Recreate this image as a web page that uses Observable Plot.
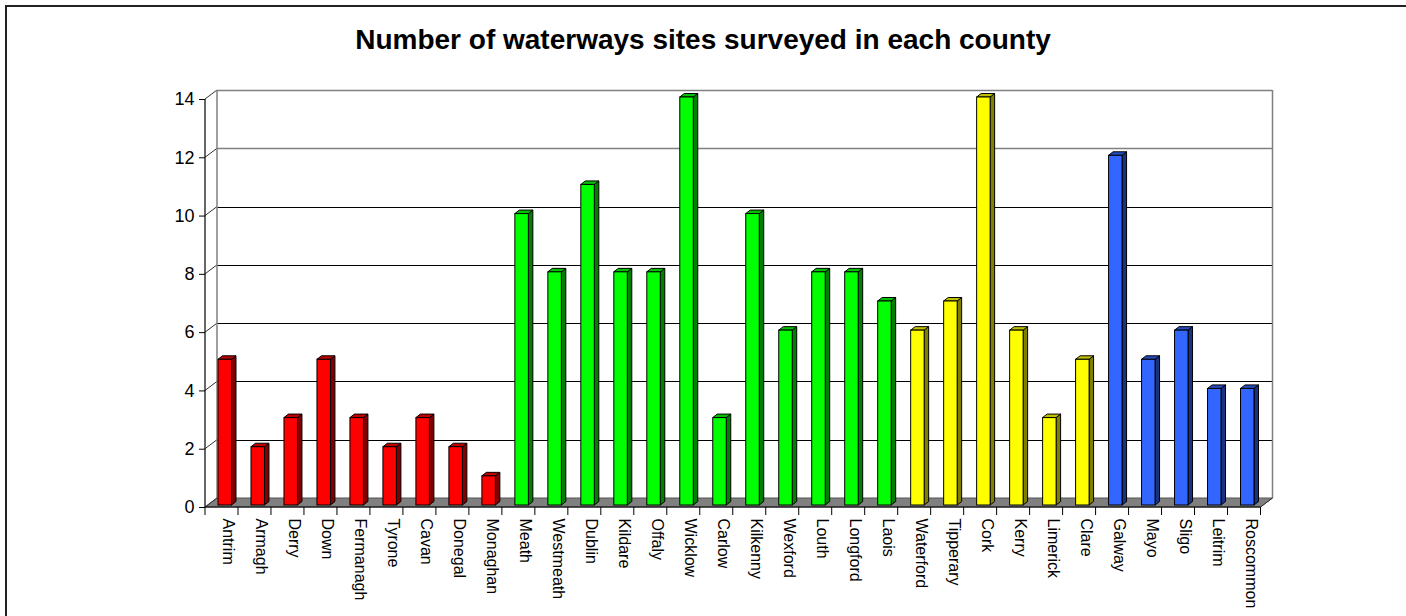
<!DOCTYPE html>
<html>
<head>
<meta charset="utf-8">
<script src="https://cdn.jsdelivr.net/npm/d3@7"></script>
<script src="https://cdn.jsdelivr.net/npm/@observablehq/plot@0.6"></script>
<style>
  html, body { margin: 0; padding: 0; background: #fff; overflow: hidden; width: 1406px; height: 616px; }
  #frame { position: absolute; left: 5px; top: 5px; width: 2000px; height: 2000px; border-left: 2px solid #222; border-top: 2px solid #222; }
  #title { position: absolute; left: 0; top: 26px; width: 1406px; text-align: center; font: bold 28px "Liberation Sans", Arial, sans-serif; line-height: 28px; color: #000; }
  #chart { position: absolute; left: 0; top: 60px; }
</style>
</head>
<body>
<div id="frame"></div>
<div id="title">Number of waterways sites surveyed in each county</div>
<div id="chart"></div>
<script>
// ---- data ----
const counties = ["Antrim","Armagh","Derry","Down","Fermanagh","Tyrone","Cavan","Donegal","Monaghan",
  "Meath","Westmeath","Dublin","Kildare","Offaly","Wicklow","Carlow","Kilkenny","Wexford","Louth","Longford","Laois",
  "Waterford","Tipperary","Cork","Kerry","Limerick","Clare",
  "Galway","Mayo","Sligo","Leitrim","Roscommon"];
const sites = [5,2,3,5,3,2,3,2,1,
  10,8,11,8,8,14,3,10,6,8,8,7,
  6,7,14,6,3,5,
  12,5,6,4,4];
const regions = ["Ulster","Ulster","Ulster","Ulster","Ulster","Ulster","Ulster","Ulster","Ulster",
  "Leinster","Leinster","Leinster","Leinster","Leinster","Leinster","Leinster","Leinster","Leinster","Leinster","Leinster","Leinster",
  "Munster","Munster","Munster","Munster","Munster","Munster",
  "Connacht","Connacht","Connacht","Connacht","Connacht"];
const yTicks = [0,2,4,6,8,10,12,14];

// ---- styles ----
const faceColors = {
  Ulster:   {front: "#FF0000", top: "#C00000", side: "#800000"},
  Leinster: {front: "#00FF00", top: "#00C000", side: "#008000"},
  Munster:  {front: "#FFFF00", top: "#C0C000", side: "#808000"},
  Connacht: {front: "#3366FF", top: "#274DC0", side: "#1A3380"}
};
const data = counties.map((c, i) => ({county: c, value: sites[i], region: regions[i]}));

const DEPTH_X = 12, DEPTH_Y = 9;     // wall depth offset
const BAR_DX = 4.5, BAR_DY = 3.5;    // bar depth
const INSET_L = 13, INSET_R = 6.5, BAR_SHIFT = 2;

function bwOf(x, dims) {
  if (typeof x.bandwidth === "function") return x.bandwidth();
  if (typeof x.bandwidth === "number") return x.bandwidth;
  return (dims.width - dims.marginLeft - dims.marginRight) / counties.length;
}

// back walls + gridlines + floor
function walls(index, {x, y}, values, dims) {
  const g = d3.create("svg:g");
  const x0 = dims.marginLeft, x1 = dims.width - dims.marginRight;
  const ytop = y(yTicks[yTicks.length - 1]), ybot = y(0);
  g.append("polygon")
    .attr("points", [[x0, ybot], [x1, ybot], [x1 + DEPTH_X, ybot - DEPTH_Y], [x0 + DEPTH_X, ybot - DEPTH_Y]].map(p => p.join(",")).join(" "))
    .attr("fill", "#808080").attr("stroke", "#555").attr("stroke-width", 1);
  for (const v of yTicks) {
    if (v === 0) continue;
    const yy = Math.round(y(v) - DEPTH_Y) + 0.5;
    g.append("line").attr("x1", x0 + DEPTH_X).attr("x2", x1 + DEPTH_X).attr("y1", yy).attr("y2", yy)
      .attr("stroke", v >= 12 ? "#808080" : "#000").attr("stroke-width", v >= 12 ? 1.5 : 1);
  }
  for (const v of yTicks) {
    g.append("line").attr("x1", x0).attr("y1", y(v)).attr("x2", x0 + DEPTH_X).attr("y2", y(v) - DEPTH_Y)
      .attr("stroke", "#333").attr("stroke-width", 1);
  }
  g.append("line").attr("x1", x0 + DEPTH_X).attr("x2", x0 + DEPTH_X).attr("y1", ytop - DEPTH_Y).attr("y2", ybot - DEPTH_Y)
    .attr("stroke", "#808080").attr("stroke-width", 1.5);
  g.append("line").attr("x1", x1 + DEPTH_X).attr("x2", x1 + DEPTH_X).attr("y1", ytop - DEPTH_Y).attr("y2", ybot - DEPTH_Y)
    .attr("stroke", "#808080").attr("stroke-width", 1.5);
  return g.node();
}

// side + top faces of the 3D bars
function barFaces(index, {x, y}, values, dims) {
  const g = d3.create("svg:g");
  const bw = bwOf(x, dims);
  for (const d of data) {
    const xl = x(d.county) + INSET_L, xr = x(d.county) + bw - INSET_R;
    const yt = y(d.value) - BAR_SHIFT, yb = y(0) - BAR_SHIFT;
    const c = faceColors[d.region];
    g.append("polygon")
      .attr("points", [[xr, yt], [xr + BAR_DX, yt - BAR_DY], [xr + BAR_DX, yb - BAR_DY], [xr, yb]].map(p => p.join(",")).join(" "))
      .attr("fill", c.side).attr("stroke", "#000").attr("stroke-width", 1).attr("stroke-linejoin", "round");
    g.append("polygon")
      .attr("points", [[xl, yt], [xl + BAR_DX, yt - BAR_DY], [xr + BAR_DX, yt - BAR_DY], [xr, yt]].map(p => p.join(",")).join(" "))
      .attr("fill", c.top).attr("stroke", "#000").attr("stroke-width", 1).attr("stroke-linejoin", "round");
  }
  return g.node();
}

// front axis lines and category ticks
function axesLines(index, {x, y}, values, dims) {
  const g = d3.create("svg:g");
  const bw = bwOf(x, dims);
  const x0 = dims.marginLeft, x1 = dims.width - dims.marginRight;
  const y0 = y(0);
  g.append("line").attr("x1", x0).attr("x2", x0).attr("y1", y(14)).attr("y2", y0).attr("stroke", "#000").attr("stroke-width", 1.2);
  g.append("line").attr("x1", x0).attr("x2", x1).attr("y1", y0).attr("y2", y0).attr("stroke", "#000").attr("stroke-width", 1.2);
  g.append("line").attr("x1", x1).attr("x2", x1 + DEPTH_X).attr("y1", y0).attr("y2", y0 - DEPTH_Y).attr("stroke", "#333").attr("stroke-width", 1);
  const bounds = counties.map(c => x(c)).concat([x(counties[counties.length - 1]) + bw]);
  for (const bx of bounds) {
    g.append("line").attr("x1", bx).attr("x2", bx).attr("y1", y0).attr("y2", y0 + 8).attr("stroke", "#000").attr("stroke-width", 1);
  }
  return g.node();
}

const chart = Plot.plot({
  width: 1406,
  height: 556,
  marginLeft: 205,
  marginRight: 145.5,
  marginTop: 39,
  marginBottom: 109,
  style: {fontFamily: '"Liberation Sans", Arial, sans-serif', color: "#000", background: "transparent", overflow: "visible"},
  x: {type: "band", domain: counties, padding: 0, round: false, axis: null},
  y: {domain: [0, 14], axis: null},
  marks: [
    walls,
    barFaces,
    Plot.barY(data, {
      x: "county", y1: 0, y2: "value",
      fill: d => faceColors[d.region].front,
      stroke: "#000", strokeWidth: 1,
      insetLeft: INSET_L, insetRight: INSET_R, dy: -BAR_SHIFT
    }),
    axesLines,
    Plot.axisY({ticks: yTicks, tickSize: 6, tickPadding: 5, fontSize: 18, label: null, tickFormat: d => d}),
    Plot.text(counties, {
      x: d => d, frameAnchor: "bottom", dy: 11, dx: 1.5,
      rotate: 90, textAnchor: "start", fontSize: 16, fill: "#000"
    })
  ]
});
document.getElementById("chart").appendChild(chart);
</script>
</body>
</html>
